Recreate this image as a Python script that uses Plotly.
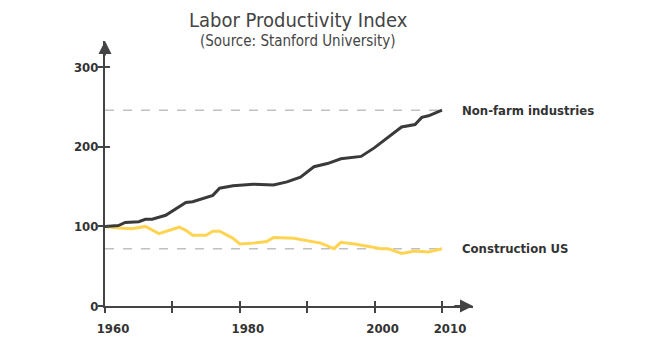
import plotly.graph_objects as go

# ---- data ----
nonfarm_years = [1960, 1962, 1963, 1965, 1966, 1967, 1969, 1971, 1972, 1973, 1975, 1976,
                 1977, 1979, 1982, 1985, 1987, 1989, 1991, 1993, 1995, 1998, 2000, 2004,
                 2006, 2007, 2008, 2010]
nonfarm_values = [100, 101, 105, 106, 109, 109, 114, 124, 130, 131, 137, 139,
                  148, 151, 153, 152, 156, 162, 175, 179, 185, 188, 199, 225,
                  228, 237, 239, 246]

constr_years = [1960, 1962, 1964, 1966, 1968, 1971, 1972, 1973, 1975, 1976, 1977, 1979,
                1980, 1982, 1984, 1985, 1988, 1990, 1992, 1994, 1995, 1997, 1999, 2001,
                2002, 2004, 2006, 2008, 2010]
constr_values = [100, 98, 97, 100, 91, 99, 95, 89, 89, 94, 94, 85,
                 78, 79, 81, 86, 85, 82, 79, 72, 80, 78, 75, 72,
                 72, 66, 69, 68, 72]

x_ticks = [1960, 1970, 1980, 1990, 2000, 2010]
x_tick_labels = ["<b>1960</b>", "", "<b>1980</b>", "", "<b>2000</b>", "<b>2010</b>"]
y_ticks = [0, 100, 200, 300]
y_tick_labels = ["<b>0</b>", "<b>100</b>", "<b>200</b>", "<b>300</b>"]

series_names = ["Non-farm industries", "Construction US"]
title = "Labor Productivity Index"
subtitle = "(Source: Stanford University)"

# ---- style ----
FONT = "Ubuntu Condensed, DejaVu Sans Condensed, Liberation Sans Narrow, Roboto, sans-serif"
AX = "#444444"
DARK = "#3a3a3a"
YELLOW = "#ffd452"
GRID = "#c0c0c0"
X_RANGE = [1960, 2014.6]
Y_RANGE = [0, 333]

fig = go.Figure()

# reference dashed lines at the final values
fig.add_trace(go.Scatter(x=[nonfarm_years[0], nonfarm_years[-1]],
                         y=[nonfarm_values[-1]] * 2, mode="lines",
                         line=dict(color=GRID, width=1.5, dash="dash"),
                         hoverinfo="skip", showlegend=False))
fig.add_trace(go.Scatter(x=[constr_years[0], constr_years[-1]],
                         y=[constr_values[-1]] * 2, mode="lines",
                         line=dict(color=GRID, width=1.5, dash="dash"),
                         hoverinfo="skip", showlegend=False))

fig.add_trace(go.Scatter(x=constr_years, y=constr_values, mode="lines",
                         name=series_names[1], line=dict(color=YELLOW, width=3),
                         showlegend=False))
fig.add_trace(go.Scatter(x=nonfarm_years, y=nonfarm_values, mode="lines",
                         name=series_names[0], line=dict(color=DARK, width=3),
                         showlegend=False))

# invisible trace on overlay axes (for crossing tick marks)
fig.add_trace(go.Scatter(x=[X_RANGE[0]], y=[Y_RANGE[0]], xaxis="x2", yaxis="y2",
                         mode="markers", marker=dict(opacity=0), hoverinfo="skip",
                         showlegend=False))

tickfont = dict(family=FONT, size=13, color="#333333")

fig.update_layout(
    width=670, height=350, autosize=False,
    margin=dict(l=104.5, r=197, t=41, b=44),
    paper_bgcolor="white", plot_bgcolor="white",
    font=dict(family=FONT, color="#333333"),
    xaxis=dict(range=X_RANGE, showgrid=False, zeroline=False,
               showline=True, linecolor=AX, linewidth=2,
               tickmode="array", tickvals=x_ticks, ticktext=x_tick_labels,
               ticks="outside", ticklen=5, tickwidth=2, tickcolor=AX,
               tickfont=tickfont, ticklabelshift=8, ticklabelstandoff=4),
    yaxis=dict(range=Y_RANGE, showgrid=False, zeroline=False,
               showline=True, linecolor=AX, linewidth=2,
               tickmode="array", tickvals=y_ticks, ticktext=y_tick_labels,
               ticks="outside", ticklen=5, tickwidth=2, tickcolor=AX,
               tickfont=tickfont, ticklabelstandoff=-3),
    xaxis2=dict(range=X_RANGE, overlaying="x", showgrid=False, zeroline=False,
                showline=False, tickmode="array", tickvals=x_ticks,
                ticks="inside", ticklen=5, tickwidth=2, tickcolor=AX,
                showticklabels=False, side="bottom"),
    yaxis2=dict(range=Y_RANGE, overlaying="y", showgrid=False, zeroline=False,
                showline=False, tickmode="array", tickvals=y_ticks,
                ticks="inside", ticklen=5, tickwidth=2, tickcolor=AX,
                showticklabels=False, side="left"),
)

annotations = [
    # axis arrowheads
    dict(x=X_RANGE[1], y=0, ax=X_RANGE[1] - 3, ay=0, xref="x", yref="y",
         axref="x", ayref="y", text="", showarrow=True, arrowhead=2,
         arrowsize=1.3, arrowwidth=2, arrowcolor=AX),
    dict(x=X_RANGE[0], y=Y_RANGE[1], ax=X_RANGE[0], ay=Y_RANGE[1] - 20, xref="x", yref="y",
         axref="x", ayref="y", text="", showarrow=True, arrowhead=2,
         arrowsize=1.3, arrowwidth=2, arrowcolor=AX),
    # series labels
    dict(x=2012.7, y=nonfarm_values[-1], xref="x", yref="y", text="<b>" + series_names[0] + "</b>",
         showarrow=False, xanchor="left", yanchor="middle",
         font=dict(family=FONT, size=13, color="#333333")),
    dict(x=2012.7, y=constr_values[-1], xref="x", yref="y", text="<b>" + series_names[1] + "</b>",
         showarrow=False, xanchor="left", yanchor="middle",
         font=dict(family=FONT, size=13, color="#333333")),
    # titles (positions given in pixels, converted below)
    dict(x=298, y=20, xref="paper", yref="paper", text=title, showarrow=False,
         xanchor="center", yanchor="middle",
         font=dict(family=FONT, size=20, color="#444444")),
    dict(x=298, y=41, xref="paper", yref="paper", text=subtitle, showarrow=False,
         xanchor="center", yanchor="middle",
         font=dict(family=FONT, size=15, color="#444444")),
]
pl, pr, pt, pb = 104.5, 670 - 197, 41, 350 - 44
for a in annotations[-2:]:
    a["x"] = (a["x"] - pl) / (pr - pl)
    a["y"] = (pb - a["y"]) / (pb - pt)
fig.update_layout(annotations=annotations)

fig.write_html("out.html")
